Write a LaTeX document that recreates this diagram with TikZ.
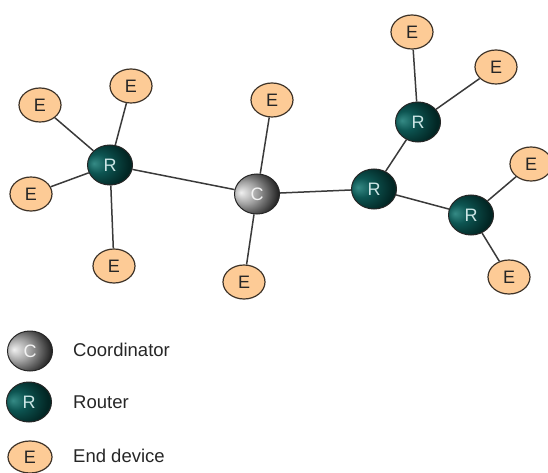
\documentclass[tikz,border=0pt]{standalone}
\usepackage{fontspec}
\setmainfont{Liberation Sans}
\usetikzlibrary{shapes.geometric}
\definecolor{efill}{HTML}{FDCB96}
\definecolor{edraw}{HTML}{3E3328}
\definecolor{linec}{HTML}{3A3A3A}
\definecolor{tealL}{HTML}{358A85}
\definecolor{tealM}{HTML}{0D5552}
\definecolor{tealD}{HTML}{022624}
\definecolor{grayL}{HTML}{F0F0F0}
\definecolor{grayM}{HTML}{A0A0A0}
\definecolor{grayD}{HTML}{252525}
\pgfdeclareradialshading{rshade}{\pgfpoint{-18bp}{2bp}}{color(0bp)=(tealL); color(12bp)=(tealM); color(30bp)=(tealD); color(60bp)=(tealD)}
\pgfdeclareradialshading{cshade}{\pgfpoint{-18bp}{2bp}}{color(0bp)=(grayL); color(14bp)=(grayM); color(32bp)=(grayD); color(60bp)=(grayD)}
\tikzset{
  enode/.style={ellipse, draw=edraw, line width=1.2pt, fill=efill, minimum width=42pt, minimum height=34pt, inner sep=0pt, font=\fontsize{18}{18}\selectfont, text=black!85},
  rnode/.style={ellipse, draw=black!85, line width=1pt, shading=rshade, minimum width=45pt, minimum height=40pt, inner sep=0pt, font=\fontsize{18}{18}\selectfont, text=white!80!teal},
  cnode/.style={ellipse, draw=black!85, line width=1pt, shading=cshade, minimum width=45pt, minimum height=40pt, inner sep=0pt, font=\fontsize{18}{18}\selectfont, text=white!90!gray},
  link/.style={draw=linec, line width=1.5pt},
  legtext/.style={anchor=west, inner sep=0pt, font=\fontsize{18.5}{18.5}\selectfont, text=black!85}
}
\begin{document}
\begin{tikzpicture}[x=1pt,y=-1pt]
\useasboundingbox (0,0) rectangle (548,473);
\clip (0,0) rectangle (548,473);
% nodes
\node[rnode] (R1) at (110,165) {R};
\node[cnode] (C) at (257,194) {C};
\node[rnode] (Rm) at (374,189) {R};
\node[rnode] (Ru) at (418,122) {R};
\node[rnode] (Rr) at (471,215) {R};
\node[enode] (E1) at (40,105) {E};
\node[enode] (E2) at (131,86) {E};
\node[enode] (E3) at (31,194) {E};
\node[enode] (E4) at (114,266) {E};
\node[enode] (E5) at (272,100) {E};
\node[enode] (E6) at (244,282) {E};
\node[enode] (E7) at (412,32) {E};
\node[enode] (E8) at (496,67) {E};
\node[enode] (E9) at (531,164) {E};
\node[enode] (E10) at (509,277) {E};
% links
\draw[link] (R1) -- (E1);
\draw[link] (R1) -- (E2);
\draw[link] (R1) -- (E3);
\draw[link] (R1) -- (E4);
\draw[link] (R1) -- (C);
\draw[link] (C) -- (E5);
\draw[link] (C) -- (E6);
\draw[link] (C) -- (Rm);
\draw[link] (Rm) -- (Ru);
\draw[link] (Rm) -- (Rr);
\draw[link] (Ru) -- (E7);
\draw[link] (Ru) -- (E8);
\draw[link] (Rr) -- (E9);
\draw[link] (Rr) -- (E10);
% legend
\node[cnode] (LC) at (30,351) {C};
\node[rnode] (LR) at (29,402) {R};
\node[enode, minimum width=44pt, minimum height=32pt] (LE) at (30,457) {E};
\node[legtext] (TC) at (73,350) {Coordinator};
\node[legtext] (TR) at (73,402) {Router};
\node[legtext] (TE) at (73,456) {End device};
\end{tikzpicture}
\end{document}
